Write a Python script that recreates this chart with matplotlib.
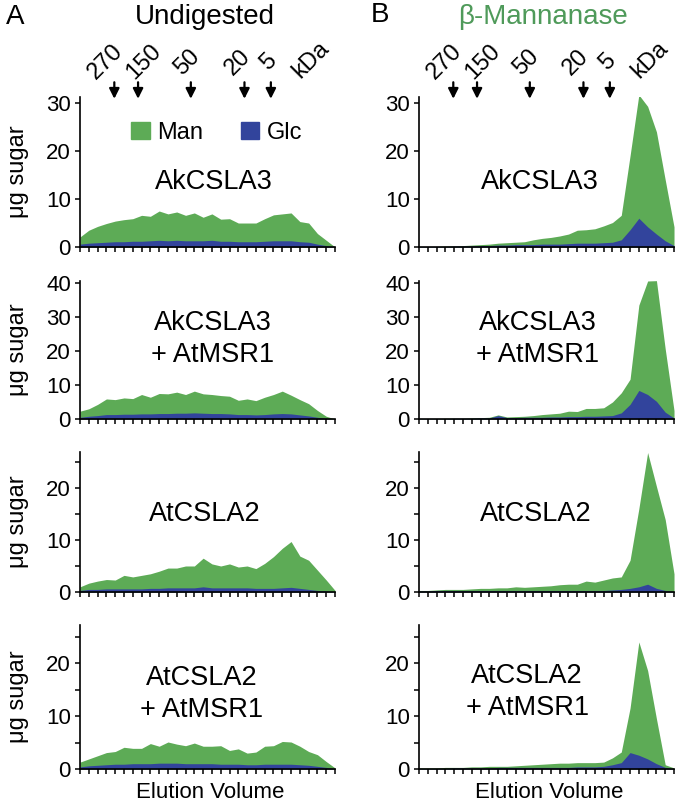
import matplotlib
matplotlib.use("Agg")
import matplotlib.pyplot as plt
from matplotlib.patches import Patch

plt.rcParams['font.family'] = ['Liberation Sans', 'DejaVu Sans']

# elution fractions (one per tick)
fractions = list(range(30))

# size markers (arrow positions in fraction units) and their labels
marker_labels = ['270', '150', '50', '20', '5']
marker_pos = [3.9, 6.6, 12.6, 18.7, 21.7]
marker_text_pos = [2.9, 7.3, 12.2, 17.9, 21.4]

samples = ['AkCSLA3', 'AkCSLA3\n+ AtMSR1', 'AtCSLA2', 'AtCSLA2\n+ AtMSR1']

# undigested, μg sugar per fraction
und_ak_man = [2.1, 3.5, 4.3, 4.9, 5.4, 5.7, 5.9, 6.6, 6.4, 7.5, 6.9, 7.3, 6.6, 7.1, 6.2,
              6.9, 5.8, 5.9, 5.0, 5.0, 5.0, 5.9, 6.7, 6.9, 7.1, 5.3, 5.0, 2.8, 1.4, 0.0]
und_ak_glc = [0.6, 0.8, 0.9, 1.0, 1.1, 1.1, 1.2, 1.2, 1.3, 1.4, 1.3, 1.4, 1.3, 1.3, 1.3,
              1.4, 1.2, 1.2, 1.1, 1.1, 1.1, 1.2, 1.3, 1.3, 1.3, 1.1, 1.0, 0.6, 0.3, 0.0]
und_akm_man = [2.3, 3.0, 4.3, 5.9, 5.7, 6.2, 6.0, 7.2, 6.4, 7.5, 7.4, 7.9, 7.2, 8.2, 7.4,
               7.2, 6.9, 6.7, 5.5, 5.9, 5.4, 6.4, 7.2, 8.2, 7.0, 5.7, 4.5, 2.5, 0.8, 0.0]
und_akm_glc = [0.5, 0.8, 1.0, 1.3, 1.3, 1.4, 1.4, 1.5, 1.5, 1.6, 1.6, 1.7, 1.7, 1.8, 1.7,
               1.6, 1.6, 1.5, 1.3, 1.3, 1.2, 1.3, 1.5, 1.6, 1.5, 1.2, 0.9, 0.5, 0.2, 0.0]
und_at_man = [1.0, 1.7, 2.1, 2.4, 2.3, 3.2, 2.9, 3.2, 3.5, 4.0, 4.6, 4.6, 5.0, 5.0, 6.5,
              5.4, 5.0, 5.4, 4.8, 5.0, 4.5, 5.5, 6.8, 8.4, 9.7, 6.9, 6.1, 4.2, 2.3, 0.3]
und_at_glc = [0.3, 0.5, 0.5, 0.6, 0.6, 0.6, 0.6, 0.6, 0.7, 0.7, 0.8, 0.8, 0.8, 0.8, 1.0,
              0.8, 0.8, 0.8, 0.8, 0.8, 0.7, 0.7, 0.7, 0.8, 0.9, 0.7, 0.5, 0.3, 0.2, 0.0]
und_atm_man = [1.3, 1.9, 2.5, 3.1, 3.3, 4.1, 3.9, 3.9, 4.8, 4.3, 5.1, 4.7, 4.4, 4.9, 4.3,
               4.3, 4.4, 3.5, 3.8, 3.0, 3.2, 4.3, 4.4, 5.2, 5.1, 4.3, 3.3, 2.7, 1.4, 0.2]
und_atm_glc = [0.4, 0.6, 0.7, 0.8, 0.9, 0.9, 1.0, 1.0, 1.0, 1.1, 1.1, 1.1, 1.0, 1.0, 1.0,
               1.0, 0.9, 0.9, 0.9, 0.8, 0.8, 0.9, 0.9, 0.9, 0.9, 0.8, 0.7, 0.5, 0.3, 0.0]

# beta-mannanase digested
man_ak_man = [0.1, 0.1, 0.1, 0.2, 0.2, 0.3, 0.4, 0.5, 0.6, 0.8, 0.9, 1.0, 1.1, 1.5, 1.8,
              2.0, 2.3, 2.7, 3.5, 3.6, 3.8, 4.4, 5.1, 6.6, 19.0, 31.7, 29.3, 24.0, 14.0, 4.2]
man_ak_glc = [0.1, 0.1, 0.1, 0.1, 0.2, 0.2, 0.2, 0.3, 0.3, 0.4, 0.4, 0.5, 0.5, 0.5, 0.6,
              0.6, 0.6, 0.7, 0.8, 0.8, 0.8, 0.9, 1.0, 1.5, 3.6, 6.0, 4.2, 2.7, 1.3, 0.3]
man_akm_man = [0.1, 0.1, 0.1, 0.2, 0.2, 0.2, 0.3, 0.4, 0.5, 1.2, 0.6, 0.7, 0.8, 1.0, 1.3,
               1.5, 1.7, 2.3, 2.2, 3.1, 3.1, 3.3, 5.0, 7.7, 11.7, 33.5, 40.6, 40.7, 20.6, 2.5]
man_akm_glc = [0.1, 0.1, 0.1, 0.1, 0.2, 0.2, 0.2, 0.3, 0.3, 1.0, 0.4, 0.4, 0.5, 0.5, 0.5,
               0.6, 0.6, 0.7, 0.7, 0.8, 0.8, 0.9, 1.0, 1.8, 4.3, 8.4, 7.2, 5.2, 2.0, 0.3]
man_at_man = [0.3, 0.3, 0.4, 0.5, 0.5, 0.5, 0.6, 0.7, 0.7, 0.8, 0.8, 1.0, 0.9, 1.0, 1.1,
              1.2, 1.4, 1.5, 1.5, 2.1, 1.9, 2.3, 2.7, 2.9, 6.1, 16.0, 26.8, 20.3, 13.9, 3.5]
man_at_glc = [0.2, 0.2, 0.3, 0.3, 0.3, 0.3, 0.3, 0.3, 0.3, 0.3, 0.3, 0.3, 0.3, 0.3, 0.3,
              0.3, 0.3, 0.3, 0.3, 0.3, 0.3, 0.3, 0.4, 0.5, 0.7, 1.0, 1.5, 0.7, 0.3, 0.1]
man_atm_man = [0.2, 0.2, 0.2, 0.3, 0.3, 0.3, 0.4, 0.4, 0.5, 0.5, 0.5, 0.6, 0.7, 0.8, 0.9,
               1.0, 1.1, 1.1, 1.2, 1.2, 1.2, 1.3, 2.1, 3.2, 11.5, 24.0, 18.6, 9.5, 0.8, 0.2]
man_atm_glc = [0.1, 0.1, 0.1, 0.1, 0.2, 0.2, 0.2, 0.2, 0.2, 0.3, 0.3, 0.3, 0.3, 0.3, 0.3,
               0.3, 0.3, 0.3, 0.4, 0.4, 0.4, 0.5, 0.8, 1.2, 3.1, 2.6, 1.9, 1.0, 0.3, 0.0]

GREEN = '#5dab56'
BLUE = '#32449c'
TITLE_GREEN = '#4f9a5a'

undigested = [(und_ak_man, und_ak_glc), (und_akm_man, und_akm_glc),
              (und_at_man, und_at_glc), (und_atm_man, und_atm_glc)]
digested = [(man_ak_man, man_ak_glc), (man_akm_man, man_akm_glc),
            (man_at_man, man_at_glc), (man_atm_man, man_atm_glc)]

# layout (figure fractions) and y-ranges per row
rows = [(0.6939, 0.1859, 31.25, [0, 10, 20, 30], []),
        (0.4808, 0.1710, 40.6, [0, 10, 20, 30, 40], []),
        (0.2664, 0.1735, 26.9, [0, 10, 20], [5, 15, 25]),
        (0.0471, 0.1784, 27.2, [0, 10, 20], [5, 15, 25])]
cols = [0.1182, 0.6189]
name_pos = [[(0.525, 0.433), (0.475, 0.433)],
            [(0.52, 0.58), (0.465, 0.58)],
            [(0.49, 0.557), (0.459, 0.557)],
            [(0.478, 0.52), (0.424, 0.535)]]

fig = plt.figure(figsize=(6.77, 8.07), dpi=100)

for c, data in enumerate([undigested, digested]):
    for r, (bottom, height, ytop, yt, ymt) in enumerate(rows):
        ax = fig.add_axes([cols[c], bottom, 0.3767, height])
        man, glc = data[r]
        ax.fill_between(fractions, 0, man, color=GREEN, lw=0)
        ax.fill_between(fractions, 0, glc, color=BLUE, lw=0)
        ax.set_xlim(0, 29)
        ax.set_ylim(0, ytop)
        ax.set_xticks(fractions)
        ax.set_xticklabels([])
        ax.set_yticks(yt)
        ax.set_yticks(ymt, minor=True)
        ax.tick_params(axis='both', which='both', direction='out', length=3.5, width=1.1,
                       labelsize=16, pad=3)
        for s in ['top', 'right']:
            ax.spines[s].set_visible(False)
        for s in ['left', 'bottom']:
            ax.spines[s].set_linewidth(1.2)
        nx, ny = name_pos[r][c]
        ax.text(nx, ny, samples[r], transform=ax.transAxes, ha='center', va='center',
                fontsize=19.5, linespacing=1.3)
        if c == 0:
            ax.set_ylabel('μg sugar', fontsize=17)
            ax.yaxis.set_label_coords(-0.2, 0.5)
        if r == 3:
            ax.set_xlabel('Elution Volume', fontsize=16)
            ax.xaxis.set_label_coords(0.51, -0.09)
        if r == 0:
            # size marker arrows
            for pos, tpos, lab in zip(marker_pos, marker_text_pos, marker_labels):
                ax.annotate('', xy=(pos, 30.3), xytext=(pos, 34.9),
                            arrowprops=dict(arrowstyle='-|>', color='k', lw=1.6,
                                            mutation_scale=15),
                            annotation_clip=False)
                ax.text(tpos, 38.5, lab, rotation=45, ha='center', va='center',
                        fontsize=17, clip_on=False)
            ax.text(26.3, 39.0, 'kDa', rotation=45, ha='center', va='center',
                    fontsize=17, clip_on=False)
            if c == 0:
                handles = [Patch(color=GREEN, label='Man'), Patch(color=BLUE, label='Glc')]
                ax.legend(handles=handles, loc='center', bbox_to_anchor=(0.535, 0.76),
                          ncol=2, frameon=False, fontsize=17, handlelength=0.8,
                          handleheight=0.7, handletextpad=0.3, columnspacing=1.6)

fig.text(0.022, 0.979, 'A', fontsize=20, ha='center', va='center')
fig.text(0.303, 0.979, 'Undigested', fontsize=20, ha='center', va='center')
fig.text(0.561, 0.981, 'B', fontsize=20, ha='center', va='center')
fig.text(0.802, 0.979, 'β-Mannanase', fontsize=20, ha='center', va='center', color=TITLE_GREEN)

fig.savefig('out.png', dpi=100)
